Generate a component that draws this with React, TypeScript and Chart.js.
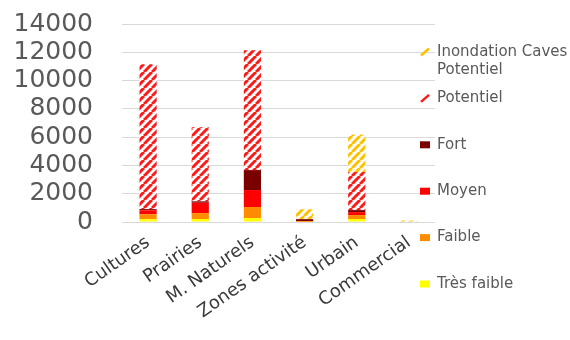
import React, { useEffect, useRef } from 'react';
import { Chart, registerables } from 'chart.js';

Chart.register(...registerables);

const categories = ['Cultures', 'Prairies', 'M. Naturels', 'Zones activité', 'Urbain', 'Commercial'];
const tresFaible = [200, 210, 280, 10, 210, 0];
const faible = [350, 420, 780, 20, 280, 0];
const moyen = [280, 730, 1200, 40, 210, 0];
const fort = [80, 100, 1410, 130, 140, 0];
const potentiel = [10240, 5240, 8480, 0, 2690, 0];
const inondationCaves = [0, 0, 0, 700, 2650, 100];

const seriesNames = ['Très faible', 'Faible', 'Moyen', 'Fort', 'Potentiel', 'Inondation Caves Potentiel'];
const legendLines = [['Très faible'], ['Faible'], ['Moyen'], ['Fort'], ['Potentiel'], ['Inondation Caves', 'Potentiel']];
const yMin = 0;
const yMax = 14000;
const yStep = 2000;

function makeHatch(color: string): CanvasPattern | string {
  const s = 8;
  const c = document.createElement('canvas');
  c.width = s;
  c.height = s;
  const g = c.getContext('2d');
  if (!g) return color;
  g.fillStyle = '#ffffff';
  g.fillRect(0, 0, s, s);
  g.strokeStyle = color;
  g.lineWidth = 3;
  for (const k of [-1, 0, 1]) {
    g.beginPath();
    g.moveTo(k * s, s);
    g.lineTo(k * s + s, 0);
    g.stroke();
  }
  return g.createPattern(c, 'repeat') || color;
}

export default function App() {
  const ref = useRef<HTMLCanvasElement>(null);

  useEffect(() => {
    if (!ref.current) return;
    const solidColors = ['#ffff00', '#ff8c00', '#ff0000', '#7a0000'];
    const hatchColors = ['#ff1a1a', '#ffc000'];
    const series = [tresFaible, faible, moyen, fort, potentiel, inondationCaves];
    const bgs: any[] = [
      solidColors[0],
      solidColors[1],
      solidColors[2],
      solidColors[3],
      makeHatch(hatchColors[0]),
      makeHatch(hatchColors[1]),
    ];
    const markerColors = [...solidColors, ...hatchColors];
    const hatched = [false, false, false, false, true, true];

    const legendPlugin = {
      id: 'customLegend',
      afterDraw(chart: any) {
        const ctx = chart.ctx;
        const x0 = chart.chartArea.right - 15;
        ctx.save();
        ctx.font = '15px "DejaVu Sans"';
        ctx.textBaseline = 'middle';
        ctx.textAlign = 'left';
        for (let i = 0; i < 6; i++) {
          const idx = 5 - i;
          const y = 52 + i * 46.4;
          if (hatched[idx]) {
            ctx.strokeStyle = markerColors[idx];
            ctx.lineWidth = 2.5;
            ctx.beginPath();
            ctx.moveTo(x0 + 1, y + 3.5);
            ctx.lineTo(x0 + 9, y - 3.5);
            ctx.stroke();
          } else {
            ctx.fillStyle = markerColors[idx];
            ctx.fillRect(x0, y - 3.5, 10, 7);
          }
          ctx.fillStyle = '#595959';
          legendLines[idx].forEach((line, j) => {
            ctx.fillText(line, x0 + 17, y + j * 18);
          });
        }
        ctx.restore();
      },
    };

    const chart = new Chart(ref.current, {
      type: 'bar',
      data: {
        labels: categories,
        datasets: series.map((d, i) => ({
          label: seriesNames[i],
          data: d,
          backgroundColor: bgs[i],
          borderWidth: 0,
          categoryPercentage: 1,
          barPercentage: 0.33,
        })),
      },
      options: {
        responsive: false,
        animation: false,
        layout: { padding: { top: 24, right: 135, bottom: 0, left: 0 } },
        plugins: {
          legend: { display: false },
          tooltip: { enabled: false },
        },
        scales: {
          x: {
            stacked: true,
            grid: { display: false, drawTicks: false },
            border: { display: false },
            ticks: {
              autoSkip: false,
              minRotation: 35,
              maxRotation: 35,
              padding: 10,
              color: '#3a3a3a',
              font: { family: '"DejaVu Sans"', size: 18 },
            },
            afterFit: (s: any) => {
              s.height = 118;
            },
          },
          y: {
            stacked: true,
            min: yMin,
            max: yMax,
            grid: { color: '#d9d9d9', drawTicks: false },
            border: { display: false },
            ticks: {
              stepSize: yStep,
              autoSkip: false,
              padding: 29,
              color: '#595959',
              font: { family: '"DejaVu Sans"', size: 25 },
              callback: (v: any) => String(v),
            },
            afterFit: (s: any) => {
              s.width = 122;
              s.paddingTop = 0;
              s.paddingBottom = 0;
            },
          },
        },
      },
      plugins: [legendPlugin],
    });
    return () => chart.destroy();
  }, []);

  return (
    <div style={{ position: 'fixed', left: 0, top: 0, width: 570, height: 340, background: '#fff' }}>
      <canvas ref={ref} width={570} height={340} style={{ display: 'block', width: 570, height: 340 }} />
    </div>
  );
}
